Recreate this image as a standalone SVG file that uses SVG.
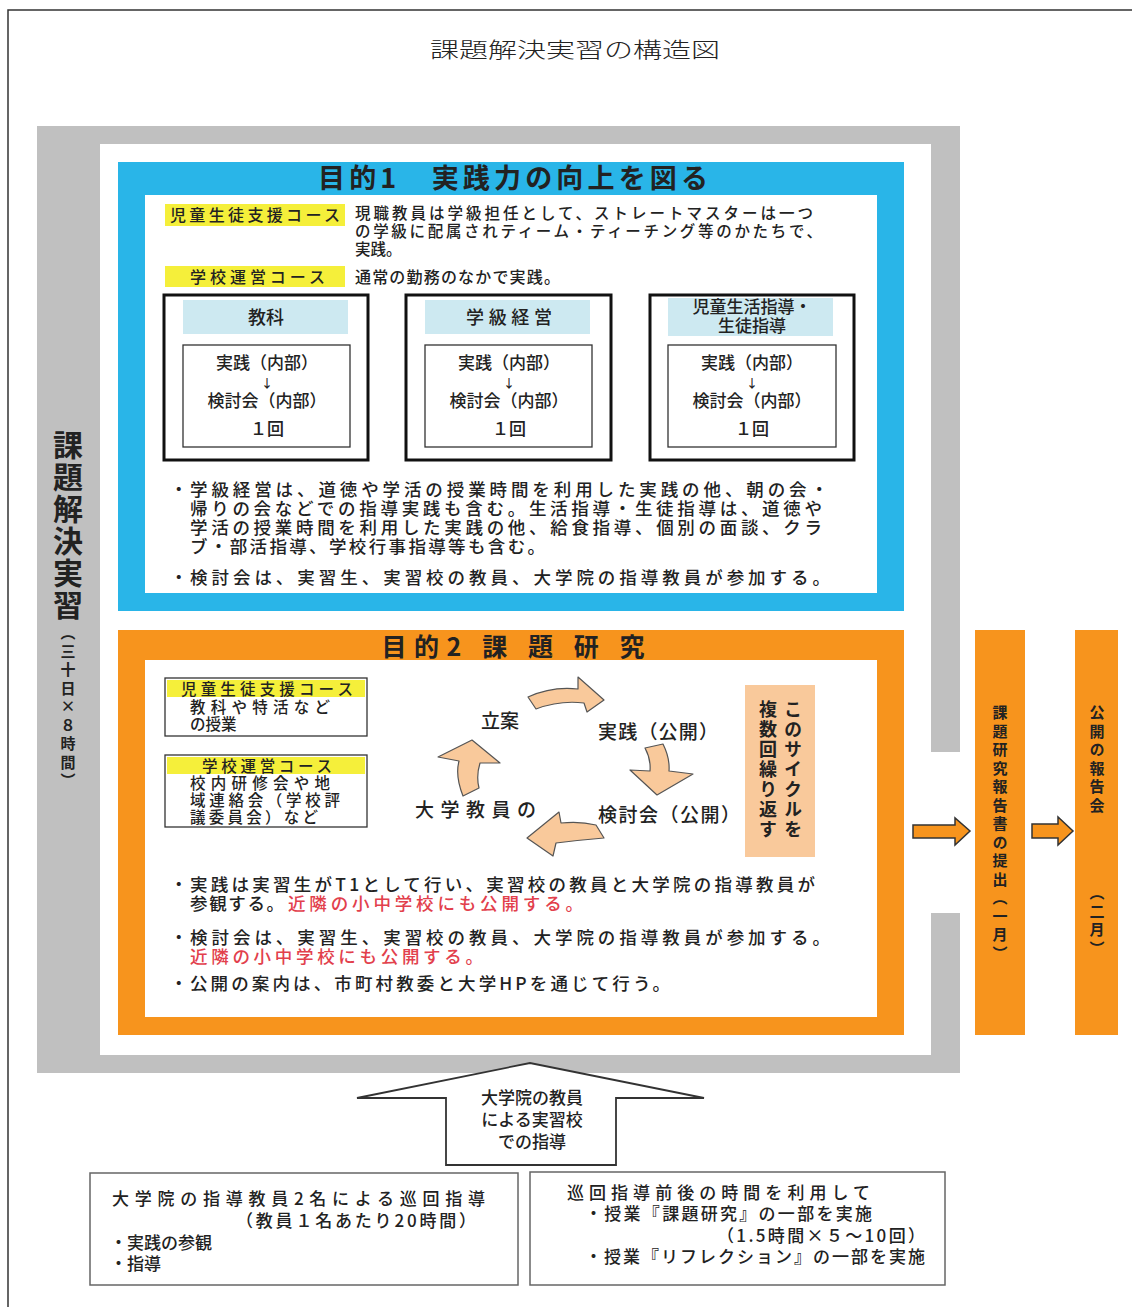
<svg xmlns="http://www.w3.org/2000/svg" width="1132" height="1307" viewBox="0 0 1132 1307">
<style>
text{font-family:"Noto Sans CJK JP","Noto Sans CJK SC",sans-serif;fill:#222;}
.b{font-weight:500;}
.bb{font-weight:700;}
.red{fill:#e2404c;}
.vt{writing-mode:vertical-rl;}
.thick{fill:#fff;stroke:#111;stroke-width:3;}
.thin{fill:#fff;stroke:#333;stroke-width:1.3;}
.hdr{fill:#cde9f1;}
.yl{fill:#f5ef3a;}
.cyc{fill:#f9c99b;stroke:#555;stroke-width:1.2;stroke-linejoin:round;}
.oarr{fill:#f7941d;stroke:#333;stroke-width:1.5;}
.bx{fill:#fff;stroke:#666;stroke-width:1.5;}
</style>
<rect width="1132" height="1307" fill="#fff"/>
<rect x="8" y="10" width="1150" height="1320" fill="none" stroke="#333" stroke-width="1.5"/>
<text x="575" y="57" font-size="21" text-anchor="middle" fill="#444" style="font-weight:300" textLength="290" lengthAdjust="spacingAndGlyphs">課題解決実習の構造図</text>

<g id="frame">
<rect x="37" y="126" width="923" height="947" fill="#c0c0c0"/>
<rect x="100" y="144" width="831" height="911" fill="#fff"/>
<rect x="931" y="752" width="30" height="161" fill="#fff"/>
<text class="vt bb" x="68" y="430" font-size="30" style="letter-spacing:2px">課題解決実習</text>
<text class="vt bb" x="68" y="625" font-size="15" style="letter-spacing:3.5px">（三十日×８時間）</text>
</g>

<g id="goal1">
<rect x="118" y="162" width="786" height="449" fill="#29b5e8"/>
<rect x="145" y="195" width="732" height="398" fill="#fff"/>
<text class="bb" x="513" y="188" font-size="27" text-anchor="middle" fill="#1d2a55" textLength="390" lengthAdjust="spacing">目的1　実践力の向上を図る</text>
<rect class="yl" x="165" y="204" width="180" height="22"/>
<text class="b" x="170" y="221" font-size="16" textLength="170" lengthAdjust="spacing">児童生徒支援コース</text>
<text class="b" font-size="15.5"><tspan x="355" y="219" textLength="458" lengthAdjust="spacing">現職教員は学級担任として、ストレートマスターは一つ</tspan><tspan x="355" y="237" textLength="467" lengthAdjust="spacing">の学級に配属されティーム・ティーチング等のかたちで、</tspan><tspan x="355" y="255">実践。</tspan></text>
<rect class="yl" x="165" y="266" width="180" height="21"/>
<text class="b" x="190" y="283" font-size="16" textLength="135" lengthAdjust="spacing">学校運営コース</text>
<text class="b" x="355" y="283" font-size="16" textLength="205" lengthAdjust="spacing">通常の勤務のなかで実践。</text>
<text class="b" font-size="17.5"><tspan x="170" y="496">・</tspan><tspan x="190" y="496" textLength="638" lengthAdjust="spacing">学級経営は、道徳や学活の授業時間を利用した実践の他、朝の会・</tspan><tspan x="190" y="515" textLength="632" lengthAdjust="spacing">帰りの会などでの指導実践も含む。生活指導・生徒指導は、道徳や</tspan><tspan x="190" y="534" textLength="632" lengthAdjust="spacing">学活の授業時間を利用した実践の他、給食指導、個別の面談、クラ</tspan><tspan x="190" y="553" textLength="355" lengthAdjust="spacing">ブ・部活指導、学校行事指導等も含む。</tspan><tspan x="170" y="584">・</tspan><tspan x="190" y="584" textLength="640" lengthAdjust="spacing">検討会は、実習生、実習校の教員、大学院の指導教員が参加する。</tspan></text>
</g>

<g id="box-kyoka">
<rect class="thick" x="164" y="295" width="204" height="165"/>
<rect class="hdr" x="183" y="300" width="165" height="34"/>
<text class="b" x="266" y="324" font-size="18" text-anchor="middle">教科</text>
<rect class="thin" x="183" y="345" width="167" height="102"/>
<text class="b" font-size="17" text-anchor="middle"><tspan x="267" y="369">実践（内部）</tspan><tspan x="267" y="388" font-size="12">↓</tspan><tspan x="267" y="407">検討会（内部）</tspan><tspan x="267" y="435">１回</tspan></text>
</g>
<g id="box-gakkyu">
<rect class="thick" x="406" y="295" width="205" height="165"/>
<rect class="hdr" x="425" y="300" width="165" height="34"/>
<text class="b" x="509" y="324" font-size="18" text-anchor="middle" textLength="86" lengthAdjust="spacing">学級経営</text>
<rect class="thin" x="425" y="345" width="167" height="102"/>
<text class="b" font-size="17" text-anchor="middle"><tspan x="509" y="369">実践（内部）</tspan><tspan x="509" y="388" font-size="12">↓</tspan><tspan x="509" y="407">検討会（内部）</tspan><tspan x="509" y="435">１回</tspan></text>
</g>
<g id="box-seikatsu">
<rect class="thick" x="650" y="295" width="204" height="165"/>
<rect class="hdr" x="668" y="298" width="165" height="38"/>
<text class="b" font-size="17" text-anchor="middle"><tspan x="752" y="313">児童生活指導・</tspan><tspan x="752" y="332">生徒指導</tspan></text>
<rect class="thin" x="668" y="345" width="168" height="102"/>
<text class="b" font-size="17" text-anchor="middle"><tspan x="752" y="369">実践（内部）</tspan><tspan x="752" y="388" font-size="12">↓</tspan><tspan x="752" y="407">検討会（内部）</tspan><tspan x="752" y="435">１回</tspan></text>
</g>

<g id="goal2">
<rect x="118" y="630" width="786" height="405" fill="#f7941d"/>
<rect x="145" y="660" width="732" height="357" fill="#fff"/>
<text class="bb" x="513" y="656" font-size="25" text-anchor="middle" fill="#222" textLength="263" lengthAdjust="spacing">目的2 課 題 研 究</text>
<text class="b" font-size="17.5"><tspan x="170" y="891">・</tspan><tspan x="190" y="891" textLength="625" lengthAdjust="spacing">実践は実習生がT1として行い、実習校の教員と大学院の指導教員が</tspan><tspan x="190" y="910" textLength="94" lengthAdjust="spacing">参観する。</tspan><tspan class="red" x="288" y="910" textLength="295" lengthAdjust="spacing">近隣の小中学校にも公開する。</tspan><tspan x="170" y="944">・</tspan><tspan x="190" y="944" textLength="640" lengthAdjust="spacing">検討会は、実習生、実習校の教員、大学院の指導教員が参加する。</tspan><tspan class="red" x="190" y="963" textLength="293" lengthAdjust="spacing">近隣の小中学校にも公開する。</tspan><tspan x="170" y="990">・</tspan><tspan x="190" y="990" textLength="480" lengthAdjust="spacing">公開の案内は、市町村教委と大学HPを通じて行う。</tspan></text>
</g>

<g id="course-a">
<rect class="thin" x="165" y="678" width="202" height="58"/>
<rect class="yl" x="167" y="680" width="198" height="17"/>
<text class="b" x="267" y="695" font-size="15.5" text-anchor="middle" textLength="172" lengthAdjust="spacing">児童生徒支援コース</text>
<text class="b" font-size="15.5"><tspan x="190" y="713" textLength="140" lengthAdjust="spacing">教科や特活など</tspan><tspan x="190" y="730">の授業</tspan></text>
</g>
<g id="course-b">
<rect class="thin" x="165" y="755" width="202" height="72"/>
<rect class="yl" x="167" y="757" width="198" height="17"/>
<text class="b" x="267" y="772" font-size="15.5" text-anchor="middle" textLength="130" lengthAdjust="spacing">学校運営コース</text>
<text class="b" font-size="15.5"><tspan x="190" y="789" textLength="140" lengthAdjust="spacing">校内研修会や地</tspan><tspan x="190" y="806" textLength="150" lengthAdjust="spacing">域連絡会（学校評</tspan><tspan x="190" y="823" textLength="128" lengthAdjust="spacing">議委員会）など</tspan></text>
</g>

<g id="cycle-ritsuan"><text class="b" x="500" y="728" font-size="19" text-anchor="middle">立案</text></g>
<g id="cycle-jissen"><text class="b" x="598" y="739" font-size="19" textLength="120" lengthAdjust="spacing">実践（公開）</text></g>
<g id="cycle-kentou"><text class="b" x="598" y="822" font-size="19" textLength="142" lengthAdjust="spacing">検討会（公開）</text></g>
<g id="cycle-daigaku"><text class="b" x="415" y="817" font-size="19" textLength="121" lengthAdjust="spacing">大学教員の</text></g>
<g id="cycle-note">
<rect x="745" y="685" width="70" height="172" fill="#f9c99b"/>
<text class="vt bb" x="793" y="700" font-size="18" style="letter-spacing:2px">このサイクルを</text>
<text class="vt bb" x="768" y="700" font-size="18" style="letter-spacing:2px">複数回繰り返す</text>
</g>

<g id="report">
<rect x="975" y="630" width="50" height="405" fill="#f7941d"/>
<text class="vt bb" x="1000" y="705" font-size="15" style="letter-spacing:3.5px">課題研究報告書の提出（一月）</text>
</g>
<g id="presentation">
<rect x="1075" y="630" width="43" height="405" fill="#f7941d"/>
<text class="vt bb" x="1097" y="705" font-size="15" style="letter-spacing:3.5px">公開の報告会</text>
<text class="vt bb" x="1097" y="885" font-size="15" style="letter-spacing:3.5px">（二月）</text>
</g>

<g id="guidance-arrow">
<path d="M357,1098 L530,1063 L704,1098 L616,1098 L616,1165 L446,1165 L446,1098 Z" fill="#fff" stroke="#333" stroke-width="1.8" stroke-linejoin="miter"/>
<text class="b" font-size="17" text-anchor="middle"><tspan x="532" y="1104">大学院の教員</tspan><tspan x="532" y="1126">による実習校</tspan><tspan x="532" y="1148">での指導</tspan></text>
</g>

<g id="patrol">
<rect class="bx" x="90" y="1173" width="428" height="112"/>
<text class="b" font-size="17"><tspan x="112" y="1205" textLength="373" lengthAdjust="spacing">大学院の指導教員2名による巡回指導</tspan><tspan x="236" y="1227" textLength="240" lengthAdjust="spacing">（教員１名あたり20時間）</tspan><tspan x="110" y="1249">・実践の参観</tspan><tspan x="110" y="1270">・指導</tspan></text>
</g>
<g id="classes">
<rect class="bx" x="530" y="1172" width="415" height="113"/>
<text class="b" font-size="17"><tspan x="567" y="1199" textLength="303" lengthAdjust="spacing">巡回指導前後の時間を利用して</tspan><tspan x="585" y="1220" textLength="287" lengthAdjust="spacing">・授業『課題研究』の一部を実施</tspan><tspan x="717" y="1242" textLength="208" lengthAdjust="spacing">（1.5時間×５～10回）</tspan><tspan x="585" y="1263" textLength="340" lengthAdjust="spacing">・授業『リフレクション』の一部を実施</tspan></text>
</g>

<g id="connectors">
<path class="cyc" d="M528,697 Q552,686 578,689 L578,677 L604,700 L587,712 L584,703 Q560,700 536,709 Z"/>
<path class="cyc" d="M645,748 L663,744 Q670,758 669,771 L693,774 L657,795 L630,770 L650,771 Q651,759 645,748 Z"/>
<path class="cyc" d="M596,825 Q580,821 561,823 L559,812 L527,838 L553,856 L556,843 Q580,840 604,838 Z"/>
<path class="cyc" d="M463,796 Q455,776 459,761 L438,757 L472,740 L500,763 L480,763 Q476,776 479,788 Z"/>
<path class="oarr" d="M913,825 L955,825 L955,818 L970,831 L955,845 L955,838 L913,838 Z"/>
<path class="oarr" d="M1032,824 L1058,824 L1058,817 L1073,831 L1058,845 L1058,838 L1032,838 Z"/>
</g>
</svg>
